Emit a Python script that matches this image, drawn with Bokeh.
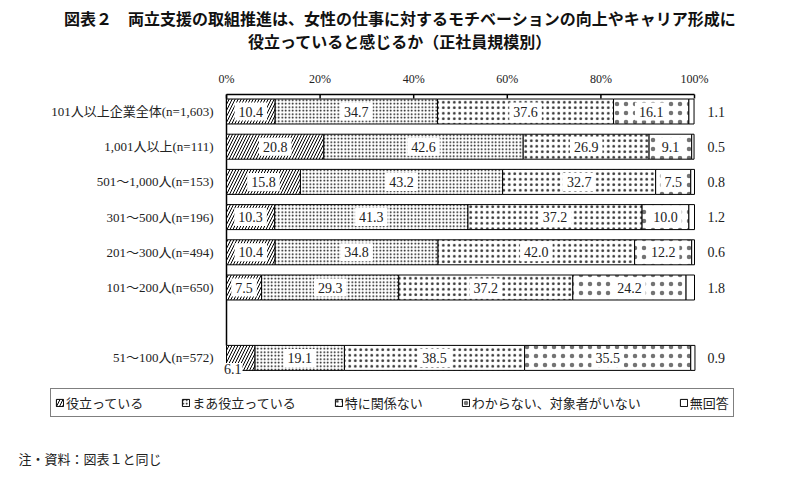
from bokeh.plotting import figure
from bokeh.models import ColumnDataSource, Range1d, Legend, LegendItem
from bokeh.core.properties import value
from bokeh.embed import file_html
from bokeh.resources import INLINE

categories = ["101人以上企業全体(n=1,603)", "1,001人以上(n=111)", "501～1,000人(n=153)",
              "301～500人(n=196)", "201～300人(n=494)", "101～200人(n=650)", "51～100人(n=572)"]
positions = [0, 1, 2, 3, 4, 5, 7]
series_names = ["役立っている", "まあ役立っている", "特に関係ない", "わからない、対象者がいない", "無回答"]
yakudatte = [10.4, 20.8, 15.8, 10.3, 10.4, 7.5, 6.1]
maa_yakudatte = [34.7, 42.6, 43.2, 41.3, 34.8, 29.3, 19.1]
kankei_nai = [37.6, 26.9, 32.7, 37.2, 42.0, 37.2, 38.5]
wakaranai = [16.1, 9.1, 7.5, 10.0, 12.2, 24.2, 35.5]
mukaito = [1.1, 0.5, 0.8, 1.2, 0.6, 1.8, 0.9]
x_ticks = [0, 20, 40, 60, 80, 100]
x_tick_labels = ["0%", "20%", "40%", "60%", "80%", "100%"]
title_1 = "図表２　両立支援の取組推進は、女性の仕事に対するモチベーションの向上やキャリア形成に"
title_2 = "役立っていると感じるか（正社員規模別）"
note_text = "注・資料：図表１と同じ"

series = [yakudatte, maa_yakudatte, kankei_nai, wakaranai, mukaito]
hatches = [
    dict(hatch_pattern="/", hatch_scale=6, hatch_weight=1, hatch_alpha=1.0),
    dict(hatch_pattern=".", hatch_scale=3.5, hatch_weight=0.8, hatch_alpha=1.0),
    dict(hatch_pattern=".", hatch_scale=5.5, hatch_weight=0.6, hatch_alpha=0.8),
    dict(hatch_pattern=".", hatch_scale=9, hatch_weight=0.5, hatch_alpha=0.55),
    dict(hatch_pattern=" "),
]

SERIF = "Liberation Serif, Noto Sans CJK JP"
SANS = "Noto Sans CJK JP"
bar_h = 0.71

# pixel geometry: the frame covers the whole canvas
W, H = 799, 478
x0_px, px_per_pct = 226, 4.68       # 0% at x=226, 100% at x=694
y0_px, px_per_row = 111, 35.2       # first row centre
top_line = (94 - y0_px) / px_per_row
tick_len = 4 / px_per_row


def xd(px):
    return (px - x0_px) / px_per_pct


def yd(py):
    return (py - y0_px) / px_per_row


p = figure(width=W, height=H, output_backend="svg", toolbar_location=None,
           x_range=Range1d(xd(0), xd(W)), y_range=Range1d(yd(H), yd(0)),
           x_axis_location=None, y_axis_location=None,
           min_border_left=0, min_border_right=0, min_border_top=0, min_border_bottom=0)
p.outline_line_color = None
p.xgrid.visible = False
p.ygrid.visible = False

# top scale: rule, inward ticks and percentage labels
p.segment(x0=[x_ticks[0]], y0=[top_line], x1=[x_ticks[-1]], y1=[top_line],
          line_color="black", line_width=1.5)
p.segment(x0=x_ticks, y0=[top_line] * len(x_ticks), x1=x_ticks,
          y1=[top_line + tick_len] * len(x_ticks), line_color="black", line_width=1.5)
p.text(x=x_ticks, y=[yd(78)] * len(x_ticks), text=x_tick_labels, text_align="center",
       text_baseline="middle", text_font=value(SERIF), text_font_size="12px",
       text_color="#222222")
# left rule down to the top of the last bar
p.segment(x0=[0], y0=[top_line], x1=[0], y1=[positions[-1] - bar_h / 2],
          line_color="black", line_width=1.5)

left = [0.0] * len(positions)
label_x, label_y, label_t = [], [], []
items = []
for i, (name, vals, h) in enumerate(zip(series_names, series, hatches)):
    right = [l + v for l, v in zip(left, vals)]
    src = ColumnDataSource(dict(y=positions, left=left, right=right))
    r = p.hbar(y="y", left="left", right="right", height=bar_h, source=src,
               fill_color="white", hatch_color="black", line_color="black", line_width=1, **h)
    items.append(LegendItem(label=name, renderers=[r]))
    if i < 4:
        for k, (pos, l, v) in enumerate(zip(positions, left, vals)):
            if i == 0 and k == len(positions) - 1:
                continue
            label_x.append(l + v / 2)
            label_y.append(pos)
            label_t.append(f"{v:.1f}")
    left = right

inner = ColumnDataSource(dict(x=label_x, y=label_y, t=label_t))
p.text(x="x", y="y", text="t", source=inner, text_align="center",
       text_baseline="middle", text_font=value(SERIF), text_font_size="14px",
       text_color="#222222", background_fill_color="white", padding=4)

# small first segment of last row: label under the bar
p.text(x=[yakudatte[-1] / 2], y=[positions[-1]], text=[f"{yakudatte[-1]:.1f}"],
       x_offset=-8, y_offset=11, text_align="center", text_baseline="middle",
       text_font=value(SERIF), text_font_size="14px", text_color="#222222",
       background_fill_color="white", padding=1)

# category labels (left) and no-answer values (right)
p.text(x=[0] * len(positions), y=positions, text=categories, x_offset=-13,
       text_align="right", text_baseline="middle", text_font=value(SERIF),
       text_font_size="13px", text_color="#222222")
p.text(x=[100] * len(positions), y=positions, text=[f"{v:.1f}" for v in mukaito], x_offset=13,
       text_align="left", text_baseline="middle", text_font=value(SERIF),
       text_font_size="14px", text_color="#222222")

# title (two centred lines) and note
p.text(x=[xd(399.5)] * 2, y=[yd(17), yd(40)], text=[title_1, title_2], text_align="center",
       text_baseline="middle", text_font=value(SANS), text_font_size="16px",
       text_font_style="bold", text_color="#111111")
p.text(x=[xd(18)], y=[yd(458)], text=[note_text],
       text_align="left", text_baseline="middle", text_font=value(SANS),
       text_font_size="13px", text_color="#222222")

# legend
lg = Legend(items=items, orientation="horizontal", location=(50, 61))
lg.border_line_color = "black"
lg.border_line_width = 1.5
lg.background_fill_alpha = 1
lg.glyph_width = 9
lg.glyph_height = 9
lg.label_standoff = 2
lg.spacing = 38
lg.padding = 4
lg.margin = 0
lg.label_text_font = SANS
lg.label_text_font_size = "13px"
lg.label_height = 18
lg.label_text_color = "#222222"
p.add_layout(lg, "center")

open("out.html", "w").write(file_html(p, INLINE))
